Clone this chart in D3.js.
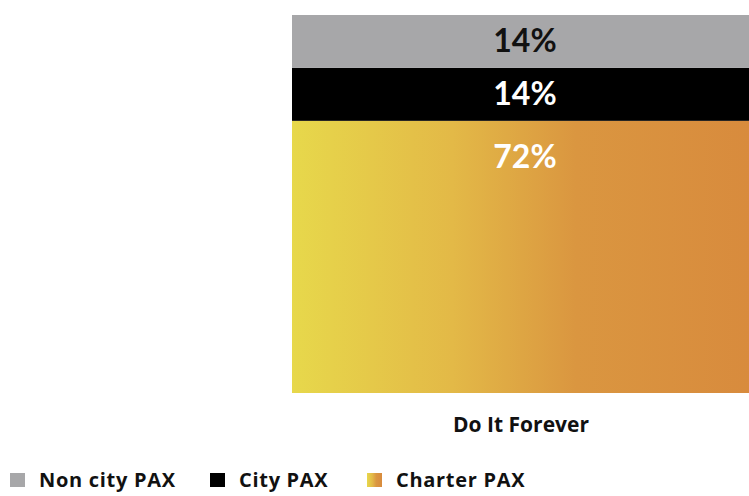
<!DOCTYPE html>
<html>
<head>
<meta charset="utf-8">
<script src="https://cdn.jsdelivr.net/npm/d3@7"></script>
<style>
  body { margin: 0; background: #fff; }
  svg { display: block; font-family: "Open Sans", Lato, sans-serif; }
</style>
</head>
<body>
<svg id="chart"></svg>
<script>
// data
const categories = ["Do It Forever"];
const seriesNames = ["Charter PAX", "City PAX", "Non city PAX"];
const charterPax = [72];
const cityPax = [14];
const nonCityPax = [14];
const legendOrder = ["Non city PAX", "City PAX", "Charter PAX"];

const W = 749, H = 496;
const svg = d3.select("#chart").attr("width", W).attr("height", H);

const defs = svg.append("defs");
const grad = defs.append("linearGradient").attr("id", "charterGrad")
  .attr("x1", "0%").attr("x2", "100%").attr("y1", "0%").attr("y2", "0%");
grad.append("stop").attr("offset", "0%").attr("stop-color", "#e7d84b");
grad.append("stop").attr("offset", "35%").attr("stop-color", "#e3b947");
grad.append("stop").attr("offset", "62%").attr("stop-color", "#da9640");
grad.append("stop").attr("offset", "100%").attr("stop-color", "#d88b3d");

const fills = {
  "Non city PAX": "#a7a7a9",
  "City PAX": "#000000",
  "Charter PAX": "url(#charterGrad)"
};
const labelColors = { "Non city PAX": "#111", "City PAX": "#fff", "Charter PAX": "#fff" };

const table = categories.map((c, i) => ({
  cat: c,
  "Charter PAX": charterPax[i],
  "City PAX": cityPax[i],
  "Non city PAX": nonCityPax[i]
}));
const stacked = d3.stack().keys(seriesNames)(table);

const x = d3.scaleBand().domain(categories).range([292, 750]).padding(0);
const y = d3.scaleLinear().domain([0, 100]).range([393, 15]);

const layers = svg.selectAll("g.layer")
  .data(stacked).enter()
  .append("g").attr("class", "layer");

layers.selectAll("rect")
  .data(d => d.map(p => ({ key: d.key, p: p })))
  .enter().append("rect")
  .attr("x", d => x(d.p.data.cat))
  .attr("width", x.bandwidth())
  .attr("y", d => y(d.p[1]))
  .attr("height", d => y(d.p[0]) - y(d.p[1]))
  .attr("fill", d => fills[d.key]);

// value labels: small segments centred, big one near its top
layers.selectAll("text")
  .data(d => d.map(p => ({ key: d.key, p: p })))
  .enter().append("text")
  .attr("x", d => x(d.p.data.cat) + x.bandwidth() / 2 + 4)
  .attr("y", d => {
    const top = y(d.p[1]), bot = y(d.p[0]);
    return (bot - top) > 100 ? top + 47 : (top + bot) / 2 + 11;
  })
  .attr("text-anchor", "middle")
  .attr("font-family", "Lato, sans-serif")
  .attr("font-size", 32)
  .attr("font-weight", 700)
  .attr("fill", d => labelColors[d.key])
  .text(d => (d.p[1] - d.p[0]) + "%");

// category axis label
const xAxis = d3.axisBottom(x).tickSize(0).tickPadding(24);
const gx = svg.append("g").attr("transform", "translate(0,393)").call(xAxis);
gx.select(".domain").remove();
gx.selectAll("text")
  .attr("font-size", 21).attr("font-weight", 700)
  .attr("font-family", "'Open Sans', sans-serif")
  .attr("fill", "#111");

// legend
const legendX = [10, 210, 367];
const lg = svg.append("g").selectAll("g")
  .data(legendOrder).enter()
  .append("g")
  .attr("transform", (d, i) => `translate(${legendX[i]},473)`);
lg.append("rect").attr("width", 15).attr("height", 14).attr("fill", d => fills[d]);
lg.append("text")
  .attr("x", 29).attr("y", 14)
  .attr("font-size", 20).attr("font-weight", 700)
  .attr("letter-spacing", 0.7)
  .attr("fill", "#111")
  .text(d => d);
</script>
</body>
</html>
